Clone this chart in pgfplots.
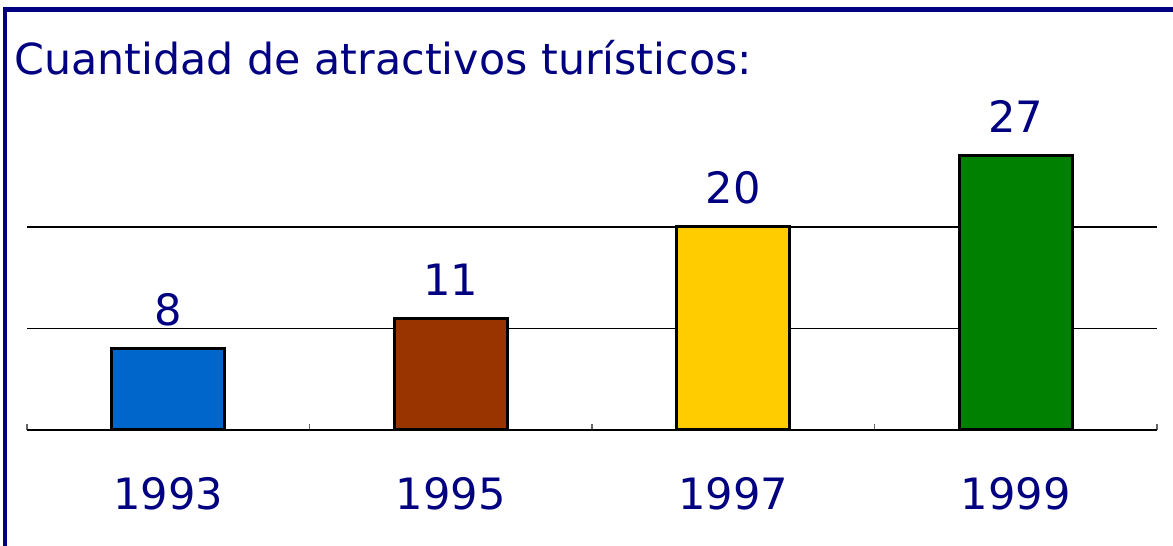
\documentclass[border=0pt]{standalone}
\usepackage{fontspec}
\setmainfont{DejaVu Sans}
\usepackage{pgfplots}
\pgfplotsset{compat=1.18}

\definecolor{navytext}{RGB}{0,0,128}
\definecolor{bblue}{RGB}{0,102,204}
\definecolor{bbrown}{RGB}{153,51,0}
\definecolor{byellow}{RGB}{255,204,0}
\definecolor{bgreen}{RGB}{0,128,0}

\begin{document}
\begin{tikzpicture}
\useasboundingbox (0,0) rectangle (586.5pt,273pt);
% frame (left and top edges only)
\draw[navytext, line width=2.2pt] (2.5pt,0) -- (2.5pt,268.25pt) -- (586.5pt,268.25pt);
\node[anchor=base west, inner sep=0pt, text=navytext, font=\fontsize{21.4}{26}\selectfont]
  at (7pt,235.5pt) {Cuantidad de atractivos turísticos:};

\begin{axis}[
    at={(13.5pt,58pt)}, anchor=south west,
    scale only axis,
    width=565pt, height=152.25pt,
    xmin=-0.5, xmax=3.5,
    ymin=0, ymax=30,
    /pgf/number format/assume math mode=true,
    separate axis lines,
    axis x line*=bottom,
    axis y line*=left,
    x axis line style={black, line width=0.8pt, -},
    y axis line style={draw=none},
    xtick={0,1,2,3},
    xticklabels={1993,1995,1997,1999},
    major x tick style={draw=none},
    minor xtick={-0.5,0.5,1.5,2.5,3.5},
    minor x tick style={black!60, line width=0.9pt},
    minor tick length=3pt,
    tick align=inside,
    xticklabel style={anchor=base, yshift=-40pt, text=navytext,
        font=\fontsize{21.6}{26}\selectfont},
    ytick={10,20},
    yticklabels={},
    major y tick style={draw=none},
    ymajorgrids,
    grid style={black, line width=0.8pt},
    bar width=56.5pt,
    nodes near coords,
    every node near coord/.append style={anchor=base, yshift=11.5pt,
        text=navytext, font=\fontsize{21.6}{26}\selectfont},
]
\addplot[ybar, fill=bblue, draw=black, line width=1.5pt] coordinates {(0,8)};
\addplot[ybar, fill=bbrown, draw=black, line width=1.5pt] coordinates {(1,11)};
\addplot[ybar, fill=byellow, draw=black, line width=1.5pt] coordinates {(2,20)};
\addplot[ybar, fill=bgreen, draw=black, line width=1.5pt] coordinates {(3,27)};
\end{axis}
\end{tikzpicture}
\end{document}
